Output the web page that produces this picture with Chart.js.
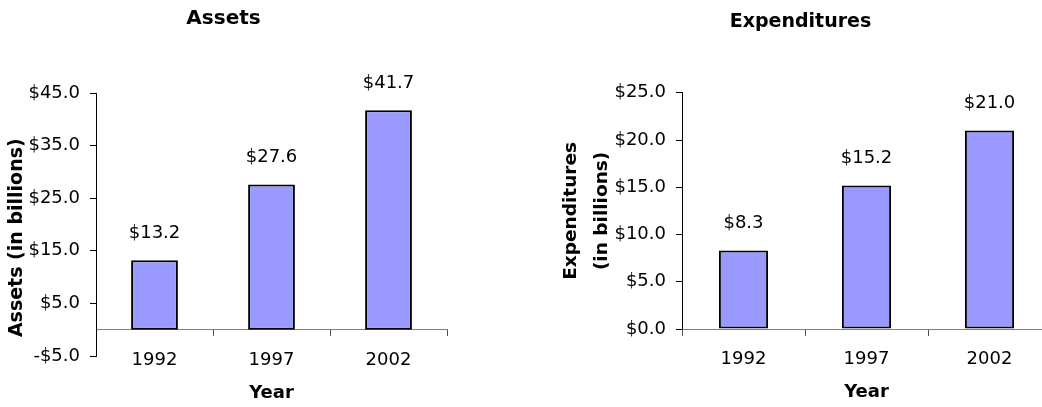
<!DOCTYPE html>
<html>
<head>
<meta charset="utf-8">
<script src="https://cdn.jsdelivr.net/npm/chart.js@4/dist/chart.umd.min.js"></script>
<style>
  html, body { margin: 0; padding: 0; background: #fff; overflow: hidden; }
  body { width: 1042px; height: 407px; position: relative; }
  canvas { position: absolute; top: 0; }
  #assets-chart { left: 0; }
  #expend-chart { left: 550px; }
</style>
</head>
<body>
<canvas id="assets-chart" width="520" height="407"></canvas>
<canvas id="expend-chart" width="520" height="407"></canvas>
<script>
const years = ['1992', '1997', '2002'];
const assets = [13.2, 27.6, 41.7];
const expenditures = [8.3, 15.2, 21.0];

Chart.defaults.font.family = 'DejaVu Sans';
Chart.defaults.color = '#000';

function money(v) {
    return (v < 0 ? '-' : '') + '$' + Math.abs(v).toFixed(1);
}

// value labels above each bar
const barLabels = {
    id: 'barLabels',
    afterDatasetsDraw(chart) {
        const ctx = chart.ctx;
        const meta = chart.getDatasetMeta(0);
        ctx.save();
        ctx.font = '18px "DejaVu Sans"';
        ctx.fillStyle = '#000';
        ctx.textAlign = 'center';
        ctx.textBaseline = 'middle';
        meta.data.forEach((bar, i) => {
            ctx.fillText(money(chart.data.datasets[0].data[i]), bar.x, bar.y - 27);
        });
        ctx.restore();
    }
};

function makeChart(id, values, opts) {
    const ctx = document.getElementById(id).getContext('2d');
    return new Chart(ctx, {
        type: 'bar',
        data: {
            labels: years,
            datasets: [{
                data: values,
                backgroundColor: '#9999FF',
                borderColor: '#000',
                borderWidth: 2,
                borderSkipped: false,
                barPercentage: 0.4,
                categoryPercentage: 1
            }]
        },
        options: {
            responsive: false,
            animation: false,
            layout: { padding: opts.padding },
            plugins: {
                legend: { display: false },
                tooltip: { enabled: false },
                title: {
                    display: true,
                    text: opts.title,
                    font: { size: opts.titleSize, weight: 'bold' },
                    color: '#000',
                    padding: opts.titlePadding
                }
            },
            scales: {
                x: {
                    position: { y: 0 },
                    offset: true,
                    border: { display: true, color: '#808080', width: 1 },
                    grid: { drawOnChartArea: false, drawTicks: true, tickLength: 6, color: '#555', offset: true },
                    ticks: { font: { size: 18 }, padding: 14, maxRotation: 0 },
                    title: {
                        display: true,
                        text: 'Year',
                        font: { size: 18, weight: 'bold' },
                        padding: { top: -3, bottom: 0 }
                    }
                },
                y: {
                    min: opts.min,
                    max: opts.max,
                    border: { display: true, color: '#000', width: 1 },
                    grid: { drawOnChartArea: false, drawTicks: true, tickLength: 6, color: '#000' },
                    ticks: { stepSize: opts.step, font: { size: 18 }, padding: 10, callback: v => money(v) },
                    title: {
                        display: true,
                        text: opts.yTitle,
                        font: { size: opts.yTitleSize, weight: 'bold', lineHeight: opts.yTitleLine },
                        padding: { top: opts.yTitlePad, bottom: 0 }
                    },
                    afterFit(scale) { scale.width = opts.yWidth; }
                }
            }
        },
        plugins: [barLabels]
    });
}

makeChart('assets-chart', assets, {
    title: 'Assets',
    titleSize: 20,
    titlePadding: { top: 7, bottom: 62 },
    padding: { left: 0, top: 0, right: 73, bottom: 51 },
    min: -5, max: 45, step: 10,
    // trailing spaces push the centred title a little lower, as in the original
    yTitle: 'Assets (in billions)    ',
    yTitleSize: 19,
    yTitleLine: 1.2,
    yTitlePad: 6,
    yWidth: 96
});

makeChart('expend-chart', expenditures, {
    title: 'Expenditures',
    titleSize: 19,
    titlePadding: { top: 11, bottom: 59 },
    padding: { left: 0, top: 0, right: 19, bottom: 78 },
    min: 0, max: 25, step: 5,
    yTitle: ['Expenditures', '(in billions)'],
    yTitleSize: 18.5,
    yTitleLine: 1.65,
    yTitlePad: 6,
    yWidth: 132
});
</script>
</body>
</html>
